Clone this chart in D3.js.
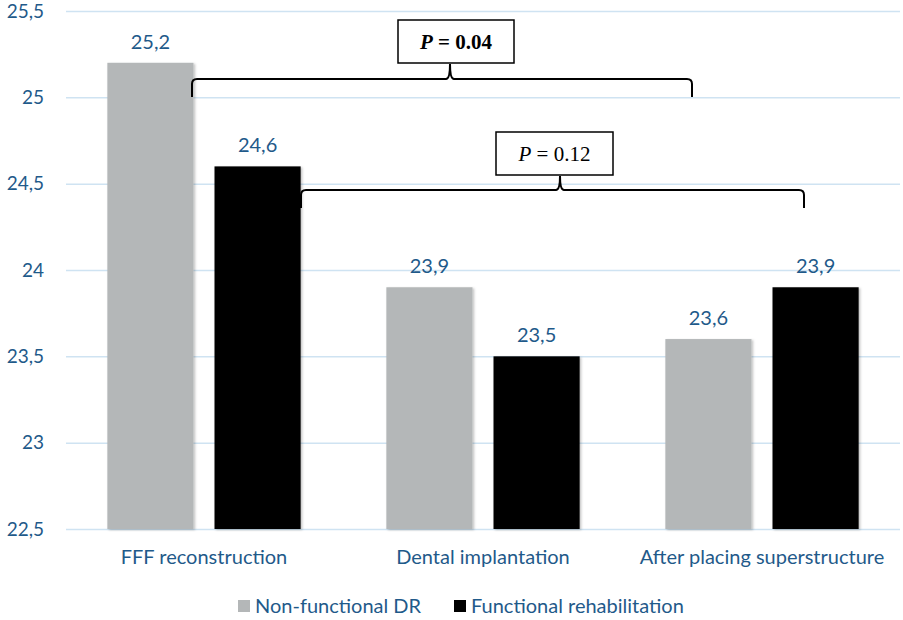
<!DOCTYPE html>
<html>
<head>
<meta charset="utf-8">
<script src="https://cdn.jsdelivr.net/npm/d3@7"></script>
<style>
  body { margin: 0; background: #fff; }
  text { font-family: Lato, "Open Sans", sans-serif; }
</style>
</head>
<body>
<svg id="chart" width="903" height="620"></svg>
<script>
// data
const categories = ["FFF reconstruction", "Dental implantation", "After placing superstructure"];
const seriesNames = ["Non-functional DR", "Functional rehabilitation"];
const nonFunctional = [25.2, 23.9, 23.6];
const functional = [24.6, 23.5, 23.9];
const yTicks = [22.5, 23, 23.5, 24, 24.5, 25, 25.5];
const pLabels = [
  { p: "0.04", bold: true },
  { p: "0.12", bold: false },
];

const colours = ["#b4b7b8", "#000000"];
const blue = "#1f5a8a";

const svg = d3.select("#chart");

const x = d3.scaleBand().domain(categories).range([64.5, 901.5]).paddingInner(0).paddingOuter(0);
const sub = d3.scaleBand().domain(seriesNames).range([0, x.bandwidth()]).paddingInner(0.196).paddingOuter(0.4);
const y = d3.scaleLinear().domain([22.5, 25.5]).range([529, 11]);

const fmt = (v) => String(v).replace(".", ",");

// gridlines
svg.append("g")
  .selectAll("line")
  .data(yTicks)
  .enter()
  .append("line")
  .attr("x1", 66)
  .attr("x2", 900)
  .attr("y1", (d) => y(d) + 0.5)
  .attr("y2", (d) => y(d) + 0.5)
  .attr("stroke", "#cfe3f2")
  .attr("stroke-width", 1.5);

// y axis labels
const yAxis = d3.axisLeft(y).tickValues(yTicks).tickSize(0).tickPadding(0).tickFormat(fmt);
svg.append("g")
  .attr("transform", "translate(44,0)")
  .call(yAxis)
  .call((g) => g.select(".domain").remove())
  .selectAll("text")
  .attr("font-size", 19)
  .attr("fill", blue)
  .attr("font-family", "Lato, sans-serif");

// shadow
const defs = svg.append("defs");
const f = defs.append("filter").attr("id", "sh").attr("x", "-10%").attr("y", "-10%").attr("width", "130%").attr("height", "130%");
f.append("feDropShadow").attr("dx", 1.5).attr("dy", 1).attr("stdDeviation", 1.2).attr("flood-color", "#000").attr("flood-opacity", 0.25);

const rows = categories.map((c, i) => ({ cat: c, values: [nonFunctional[i], functional[i]] }));

const groups = svg.selectAll(".grp")
  .data(rows)
  .enter()
  .append("g")
  .attr("class", "grp")
  .attr("transform", (d) => "translate(" + x(d.cat) + ",0)");

groups.selectAll("rect")
  .data((d) => d.values.map((v, j) => ({ name: seriesNames[j], v: v, j: j })))
  .enter()
  .append("rect")
  .attr("x", (d) => sub(d.name))
  .attr("width", sub.bandwidth())
  .attr("y", (d) => y(d.v))
  .attr("height", (d) => y(22.5) - y(d.v))
  .attr("fill", (d) => colours[d.j])
  .attr("filter", "url(#sh)");

groups.selectAll(".val")
  .data((d) => d.values.map((v, j) => ({ name: seriesNames[j], v: v })))
  .enter()
  .append("text")
  .attr("class", "val")
  .attr("x", (d) => sub(d.name) + sub.bandwidth() / 2)
  .attr("y", (d) => y(d.v) - 14)
  .attr("text-anchor", "middle")
  .attr("font-size", 20)
  .attr("fill", blue)
  .text((d) => fmt(d.v));

// category labels
svg.append("g")
  .selectAll("text")
  .data(categories)
  .enter()
  .append("text")
  .attr("x", (d) => x(d) + x.bandwidth() / 2)
  .attr("y", 564)
  .attr("text-anchor", "middle")
  .attr("font-size", 20)
  .attr("fill", blue)
  .text((d) => d);

// legend
const legend = svg.append("g").attr("transform", "translate(238,0)");
const legendX = [0, 216];
seriesNames.forEach((name, i) => {
  legend.append("rect")
    .attr("x", legendX[i])
    .attr("y", 600)
    .attr("width", 12)
    .attr("height", 12)
    .attr("fill", colours[i]);
  legend.append("text")
    .attr("x", legendX[i] + 17)
    .attr("y", 613)
    .attr("font-size", 20)
    .attr("fill", blue)
    .text(name);
});

// curly brackets with p-value boxes
const brackets = [
  { x1: 192, x2: 692, yLine: 79, yEnd: 97, tip: 450, tipTop: 64, box: [398, 20, 116, 43] },
  { x1: 301, x2: 804, yLine: 190, yEnd: 208, tip: 560, tipTop: 176, box: [496, 132, 117, 43] },
];

brackets.forEach((b, i) => {
  const r = 5;
  const path = d3.path();
  path.moveTo(b.x1, b.yEnd);
  path.lineTo(b.x1, b.yLine + r);
  path.quadraticCurveTo(b.x1, b.yLine, b.x1 + r, b.yLine);
  path.lineTo(b.tip - 4, b.yLine);
  path.quadraticCurveTo(b.tip, b.yLine, b.tip, b.tipTop);
  path.quadraticCurveTo(b.tip, b.yLine, b.tip + 4, b.yLine);
  path.lineTo(b.x2 - r, b.yLine);
  path.quadraticCurveTo(b.x2, b.yLine, b.x2, b.yLine + r);
  path.lineTo(b.x2, b.yEnd);
  svg.append("path")
    .attr("d", path.toString())
    .attr("fill", "none")
    .attr("stroke", "#000")
    .attr("stroke-width", 2);

  svg.append("rect")
    .attr("x", b.box[0])
    .attr("y", b.box[1])
    .attr("width", b.box[2])
    .attr("height", b.box[3])
    .attr("fill", "#fff")
    .attr("stroke", "#000")
    .attr("stroke-width", 1.5);

  const t = svg.append("text")
    .attr("x", b.box[0] + b.box[2] / 2)
    .attr("y", b.box[1] + 29)
    .attr("text-anchor", "middle")
    .attr("font-size", 21)
    .attr("font-weight", pLabels[i].bold ? "bold" : "normal")
    .style("font-family", "'Liberation Serif', 'DejaVu Serif', serif");
  t.append("tspan").attr("font-style", "italic").text("P");
  t.append("tspan").text(" = " + pLabels[i].p);
});
</script>
</body>
</html>
